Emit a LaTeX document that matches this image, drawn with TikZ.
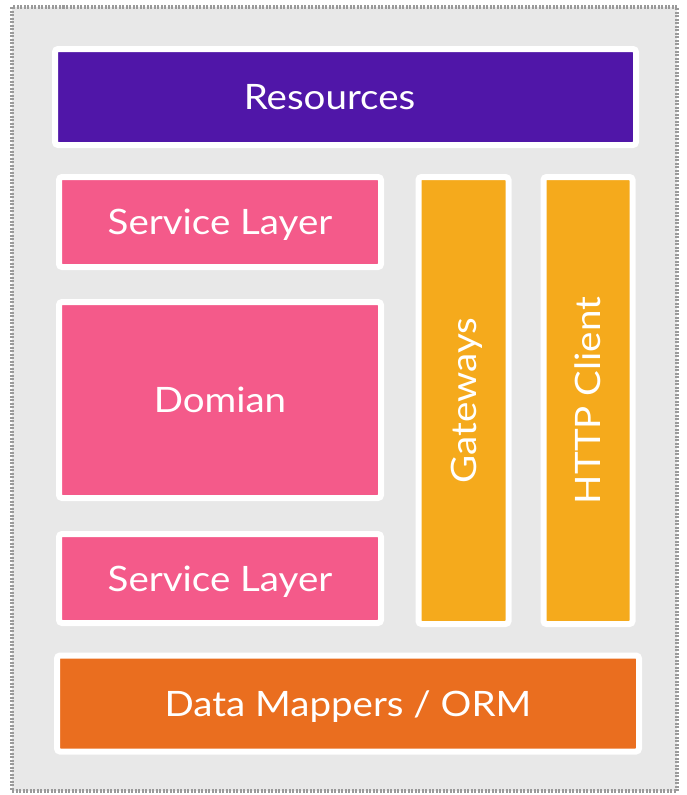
\documentclass[tikz,border=0pt]{standalone}
\usepackage{fontspec}
\setmainfont{Lato}[FakeStretch=1.1]
\definecolor{panel}{HTML}{E8E8E8}
\definecolor{frame}{HTML}{9A9A9A}
\definecolor{respurple}{HTML}{5016A8}
\definecolor{svcpink}{HTML}{F45A8A}
\definecolor{gwyellow}{HTML}{F5AA1C}
\definecolor{ormorange}{HTML}{EA6E1F}
\tikzset{
  layer/.style={draw=white, line width=6pt, rounded corners=3pt, inner sep=0pt},
  lbl/.style={text=white, font=\fontsize{35}{38}\selectfont, inner sep=0pt,
    text height=25pt, text depth=0pt},
}
\begin{document}
\begin{tikzpicture}[x=1pt, y=-1pt]
    \useasboundingbox (0, 0) rectangle (687, 795);
    \fill[white] (0, 0) rectangle (687, 795);
    \draw[fill=panel, draw=frame, line width=4pt, dash pattern=on 2pt off 1.5pt] (12, 7) rectangle (677, 791);

    \node[layer, fill=respurple, minimum width=581pt, minimum height=96pt] (res) at (345.5, 97) {};
    \node[lbl] (restext) at ([xshift=-16pt]res.center) {Resources};

    \node[layer, lbl, fill=svcpink, minimum width=322pt, minimum height=90pt] (svctop) at (220, 222) {Service Layer};
    \node[layer, lbl, fill=svcpink, minimum width=322pt, minimum height=196pt] (dom) at (220, 400) {Domian};
    \node[layer, lbl, fill=svcpink, minimum width=322pt, minimum height=89pt] (svcbot) at (220, 578.5) {Service Layer};

    \node[layer, fill=gwyellow, minimum width=90pt, minimum height=447pt] (gw) at (463.5, 400.5) {};
    \node[lbl, rotate=90] (gwtext) at (gw.center) {Gateways};
    \node[layer, fill=gwyellow, minimum width=89pt, minimum height=447pt] (http) at (588, 400.5) {};
    \node[lbl, rotate=90] (httptext) at (http.center) {HTTP Client};

    \node[layer, lbl, fill=ormorange, minimum width=582pt, minimum height=96pt] (orm) at (348, 703.5) {Data Mappers / ORM};
\end{tikzpicture}
\end{document}
